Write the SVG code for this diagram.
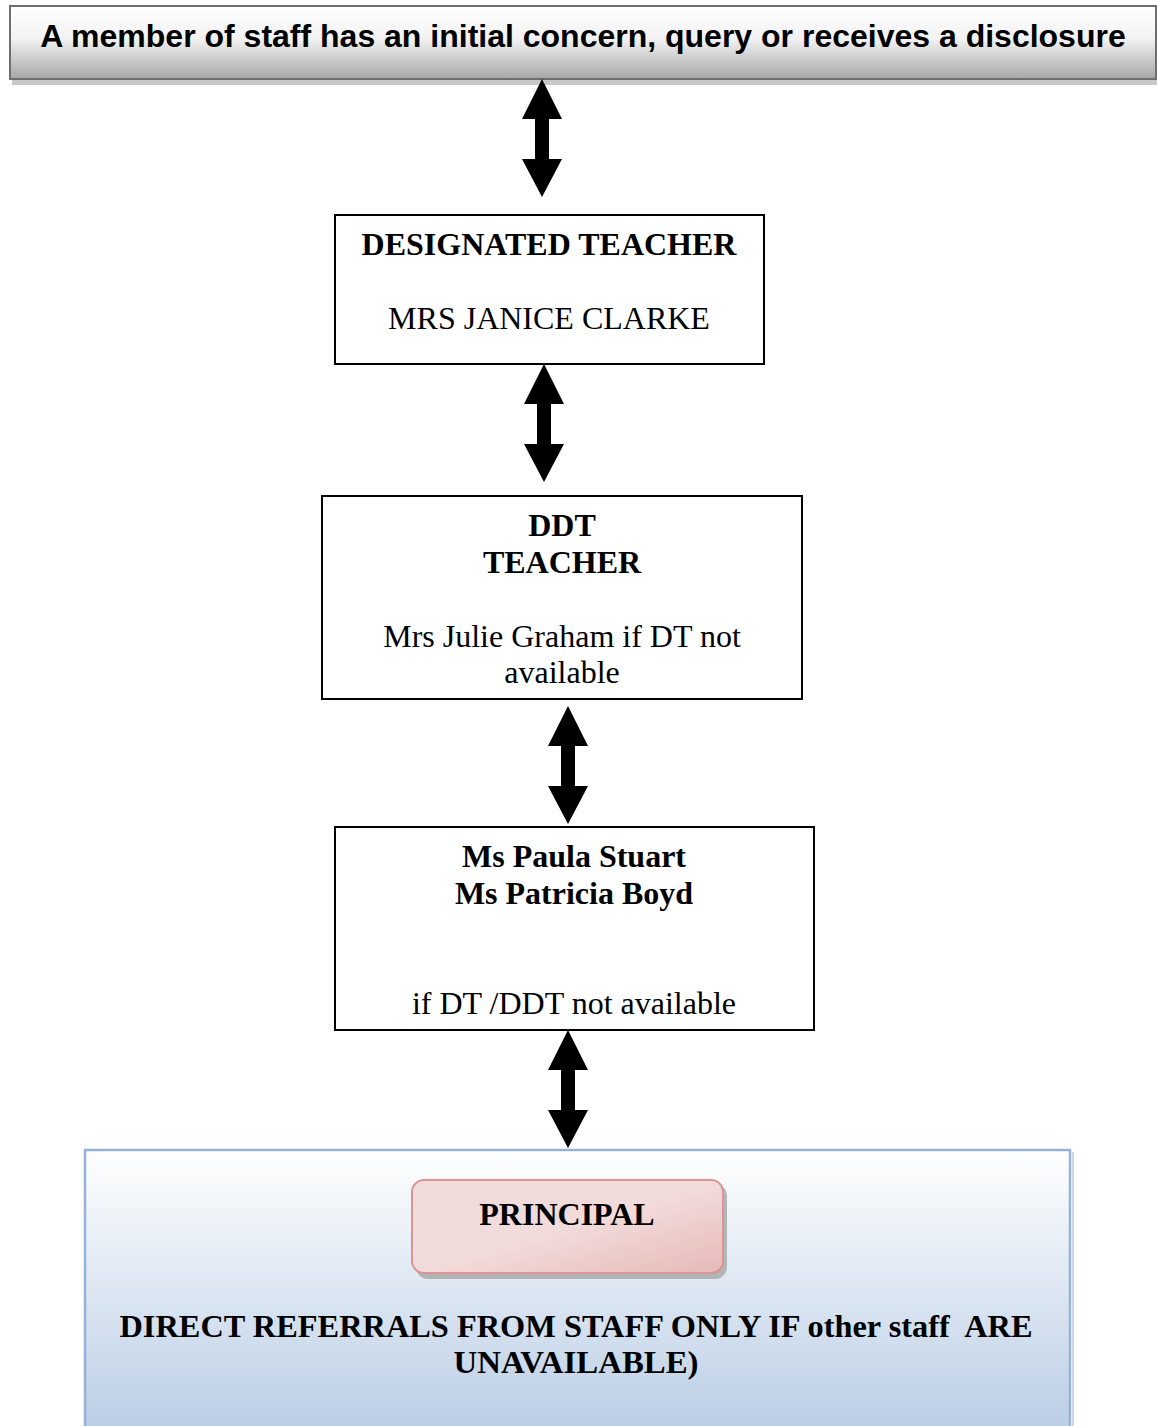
<svg xmlns="http://www.w3.org/2000/svg" width="1157" height="1426" viewBox="0 0 1157 1426">
<defs>
<linearGradient id="gTop" x1="0" y1="0" x2="0" y2="1">
<stop offset="0" stop-color="#ffffff"/><stop offset="0.45" stop-color="#f2f2f2"/><stop offset="1" stop-color="#a6a6a6"/>
</linearGradient>
<linearGradient id="gBlue" x1="0" y1="0" x2="0" y2="1">
<stop offset="0" stop-color="#ffffff"/><stop offset="1" stop-color="#b8cce4"/>
</linearGradient>
<linearGradient id="gPink" x1="0" y1="0" x2="1" y2="1">
<stop offset="0" stop-color="#f2dcdb"/><stop offset="0.5" stop-color="#f2dcdb"/><stop offset="1" stop-color="#e6b9b8"/>
</linearGradient>
<path id="dblArrow" d="M0,0 L20,40 L7,40 L7,80 L20,80 L0,118 L-20,80 L-7,80 L-7,40 L-20,40 Z"/>
</defs>
<style>
.box{fill:#ffffff;stroke:#000000;stroke-width:2}
.tb{font-family:"Liberation Serif","Times New Roman",serif;font-weight:bold;font-size:32px;fill:#000;text-anchor:middle}
.tr{font-family:"Liberation Serif","Times New Roman",serif;font-size:32px;fill:#000;text-anchor:middle}
.arrow{fill:#000}
</style>
<rect width="1157" height="1426" fill="#ffffff"/>

<g id="node-start">
<rect x="12" y="80" width="1145" height="5" fill="#c8c8c8"/>
<rect x="10" y="6" width="1146" height="73" fill="url(#gTop)" stroke="#6e6e6e" stroke-width="2"/>
<text x="583" y="47" style="font-family:'Liberation Sans',Arial,sans-serif;font-weight:bold;font-size:32px;text-anchor:middle">A member of staff has an initial concern, query or receives a disclosure</text>
</g>

<g id="node-dt">
<rect class="box" x="335" y="215" width="429" height="149"/>
<text class="tb" x="549" y="255">DESIGNATED TEACHER</text>
<text class="tr" x="549" y="329">MRS JANICE CLARKE</text>
</g>

<g id="node-ddt">
<rect class="box" x="322" y="496" width="480" height="203"/>
<text class="tb" x="562" y="536">DDT</text>
<text class="tb" x="562" y="573">TEACHER</text>
<text class="tr" x="562" y="647">Mrs Julie Graham if DT not</text>
<text class="tr" x="562" y="683">available</text>
</g>

<g id="node-staff">
<rect class="box" x="335" y="827" width="479" height="203"/>
<text class="tb" x="574" y="867">Ms Paula Stuart</text>
<text class="tb" x="574" y="904">Ms Patricia Boyd</text>
<text class="tr" x="574" y="1014">if DT /DDT not available</text>
</g>

<g id="node-principal">
<rect x="1072" y="1152" width="2" height="274" fill="#d0d8e4"/>
<rect x="85" y="1150" width="985" height="290" fill="url(#gBlue)" stroke="#95b3d7" stroke-width="2.5"/>
<rect x="416" y="1184" width="311" height="95" rx="12" fill="#a6a6a6" opacity="0.8"/>
<rect x="412" y="1180" width="311" height="93" rx="12" fill="url(#gPink)" stroke="#d99594" stroke-width="2"/>
<text class="tb" x="567" y="1225">PRINCIPAL</text>
<text class="tb" x="576" y="1337" xml:space="preserve" textLength="913" lengthAdjust="spacingAndGlyphs">DIRECT REFERRALS FROM STAFF ONLY IF other staff  ARE</text>
<text class="tb" x="576" y="1373" textLength="245" lengthAdjust="spacingAndGlyphs">UNAVAILABLE)</text>
</g>

<g id="connectors">
<use href="#dblArrow" class="arrow" x="542" y="79"/>
<use href="#dblArrow" class="arrow" x="544" y="364"/>
<use href="#dblArrow" class="arrow" x="568" y="706"/>
<use href="#dblArrow" class="arrow" x="568" y="1030"/>
</g>
</svg>
